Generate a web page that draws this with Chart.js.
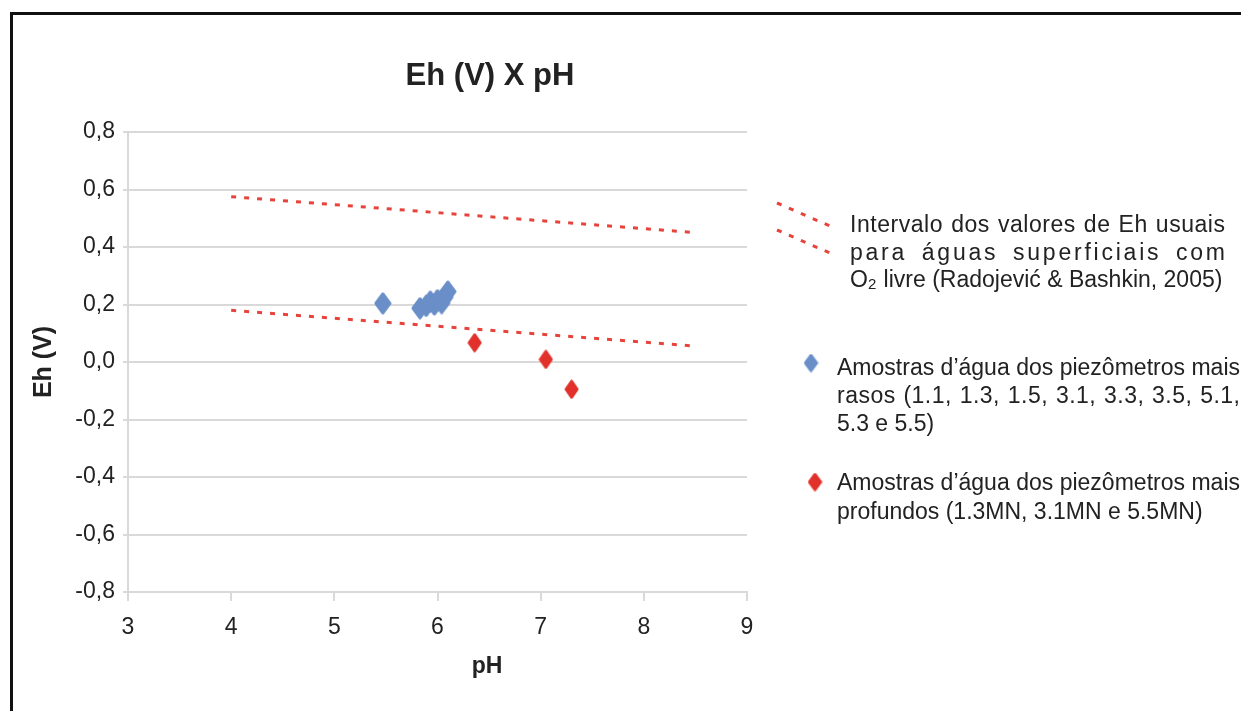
<!DOCTYPE html>
<html>
<head>
<meta charset="utf-8">
<title>Eh (V) X pH</title>
<script src="https://cdn.jsdelivr.net/npm/chart.js@4.4.1/dist/chart.umd.min.js"></script>
<style>
  html, body { margin: 0; padding: 0; background: #fff; overflow: hidden; }
  #wrap { position: relative; width: 1241px; height: 711px; }
  #moldura { position: absolute; left: 10px; top: 12px; width: 1400px; height: 900px;
             border: 3px solid #111; box-sizing: border-box; pointer-events: none; }
</style>
</head>
<body>
<div id="wrap">
  <canvas id="grafico" width="1241" height="711"></canvas>
  <div id="moldura"></div>
</div>
<script>
// piezômetros rasos
const phRasos = [5.47, 5.83, 5.89, 5.93, 5.97, 6.00, 6.04, 6.07, 6.10];
const ehRasos = [0.204, 0.187, 0.195, 0.21, 0.20, 0.215, 0.205, 0.225, 0.245];
// piezômetros profundos (MN)
const phProfundos = [6.36, 7.05, 7.30];
const ehProfundos = [0.067, 0.009, -0.095];
// limites do intervalo de Eh para águas superficiais
const phIntervalo = [4.0, 8.5];
const ehLimiteSup = [0.575, 0.45];
const ehLimiteInf = [0.18, 0.055];

const phMin = 3, phMax = 9, phPasso = 1;
const ehMin = -0.8, ehMax = 0.8, ehPasso = 0.2;

const FONTE = '"Liberation Sans", Arial, sans-serif';
const AZUL = '#6a8fc8';
const VERMELHO = '#e2312b';
const TRACO = '#e5433b';
const GRADE = '#d9d9d9';
const TEXTO = '#222';

function pares(xs, ys) {
  return xs.map((x, i) => ({ x: x, y: ys[i] }));
}

// losango um pouco mais alto que largo
function losango(cor, w, h) {
  const c = document.createElement('canvas');
  c.width = w; c.height = h;
  const g = c.getContext('2d');
  g.fillStyle = cor; g.strokeStyle = cor;
  g.lineJoin = 'round'; g.lineWidth = 3;
  g.beginPath();
  g.moveTo(w / 2, 2); g.lineTo(w - 2, h / 2); g.lineTo(w / 2, h - 2); g.lineTo(2, h / 2);
  g.closePath(); g.fill(); g.stroke();
  return c;
}

function justificado(ctx, texto, x, y, largura) {
  const natural = ctx.measureText(texto).width;
  const chars = [...texto];
  let pesos = 0;
  for (let i = 0; i < chars.length - 1; i++) pesos += chars[i] === ' ' ? 3 : 1;
  const extra = natural < largura ? (largura - natural) / pesos : 0;
  let cx = x;
  chars.forEach((ch, i) => {
    ctx.fillText(ch, cx, y);
    cx += ctx.measureText(ch).width + (i < chars.length - 1 ? extra * (ch === ' ' ? 3 : 1) : 0);
  });
}

function tracejado(ctx, x1, y1, x2, y2) {
  ctx.save();
  ctx.strokeStyle = TRACO; ctx.lineWidth = 3;
  ctx.setLineDash([5, 8]);
  ctx.beginPath(); ctx.moveTo(x1, y1); ctx.lineTo(x2, y2); ctx.stroke();
  ctx.restore();
}

const textos = {
  id: 'textos',
  afterDraw(chart) {
    const ctx = chart.ctx;
    ctx.save();
    ctx.fillStyle = TEXTO;
    ctx.textBaseline = 'alphabetic';

    ctx.font = 'bold 31px ' + FONTE;
    ctx.textAlign = 'center';
    ctx.fillText('Eh (V) X pH', 490, 85);

    ctx.font = 'bold 23px ' + FONTE;
    ctx.fillText('pH', 487, 673);

    ctx.textAlign = 'left';
    ctx.font = '23px ' + FONTE;

    // intervalo usual
    tracejado(ctx, 777, 203, 830, 226);
    tracejado(ctx, 777, 230, 830, 253);
    justificado(ctx, 'Intervalo dos valores de Eh usuais', 850, 232, 375);
    justificado(ctx, 'para águas superficiais com', 850, 259.5, 375);
    let x = 850;
    ctx.fillText('O', x, 287); x += ctx.measureText('O').width;
    ctx.font = '15px ' + FONTE;
    ctx.fillText('2', x, 289); x += ctx.measureText('2').width + 1;
    ctx.font = '23px ' + FONTE;
    ctx.fillText(' livre (Radojević & Bashkin, 2005)', x, 287);

    // piezômetros rasos
    const mA = losango(AZUL, 15, 19);
    ctx.drawImage(mA, 811 - 7.5, 363 - 9.5);
    justificado(ctx, 'Amostras d’água dos piezômetros mais', 837, 375, 403);
    justificado(ctx, 'rasos (1.1, 1.3, 1.5, 3.1, 3.3, 3.5, 5.1,', 837, 403, 403);
    ctx.fillText('5.3 e 5.5)', 837, 431);

    // piezômetros profundos
    const mV = losango(VERMELHO, 15, 19);
    ctx.drawImage(mV, 815 - 7.5, 482 - 9.5);
    justificado(ctx, 'Amostras d’água dos piezômetros mais', 837, 490, 403);
    ctx.fillText('profundos (1.3MN, 3.1MN e 5.5MN)', 837, 519);
    ctx.restore();
  }
};

new Chart(document.getElementById('grafico'), {
  type: 'scatter',
  data: {
    datasets: [
      {
        label: 'Amostras d’água dos piezômetros mais rasos',
        data: pares(phRasos, ehRasos),
        pointStyle: losango(AZUL, 18, 23),
        backgroundColor: AZUL,
        borderColor: AZUL
      },
      {
        label: 'Amostras d’água dos piezômetros mais profundos',
        data: pares(phProfundos, ehProfundos),
        pointStyle: losango(VERMELHO, 15, 20),
        backgroundColor: VERMELHO,
        borderColor: VERMELHO
      },
      {
        label: 'Limite superior',
        data: pares(phIntervalo, ehLimiteSup),
        showLine: true,
        pointRadius: 0,
        borderColor: TRACO,
        borderWidth: 3,
        borderDash: [5, 8]
      },
      {
        label: 'Limite inferior',
        data: pares(phIntervalo, ehLimiteInf),
        showLine: true,
        pointRadius: 0,
        borderColor: TRACO,
        borderWidth: 3,
        borderDash: [5, 8]
      }
    ]
  },
  options: {
    responsive: false,
    animation: false,
    layout: { padding: { top: 132, right: 494, left: 0, bottom: 0 } },
    plugins: {
      legend: { display: false },
      tooltip: { enabled: false }
    },
    scales: {
      x: {
        type: 'linear',
        min: phMin,
        max: phMax,
        ticks: { stepSize: phPasso, padding: 13, color: TEXTO, font: { family: FONTE, size: 23 } },
        grid: { drawOnChartArea: false, tickLength: 9, color: GRADE, lineWidth: 2 },
        border: { color: GRADE, width: 2 },
        afterFit(s) { s.height = 119; }
      },
      y: {
        min: ehMin,
        max: ehMax,
        ticks: {
          stepSize: ehPasso,
          padding: 8,
          color: TEXTO,
          font: { family: FONTE, size: 23 },
          callback: v => (Math.abs(v) < 1e-9 ? 0 : v).toFixed(1).replace('.', ',')
        },
        grid: { tickLength: 5, color: GRADE, lineWidth: 2 },
        border: { color: GRADE, width: 2 },
        title: {
          display: true,
          text: 'Eh (V)',
          color: TEXTO,
          font: { family: FONTE, size: 25, weight: 'bold' },
          padding: { top: 29, bottom: 0 }
        },
        afterFit(s) { s.width = 128; }
      }
    }
  },
  plugins: [textos]
});
</script>
</body>
</html>
